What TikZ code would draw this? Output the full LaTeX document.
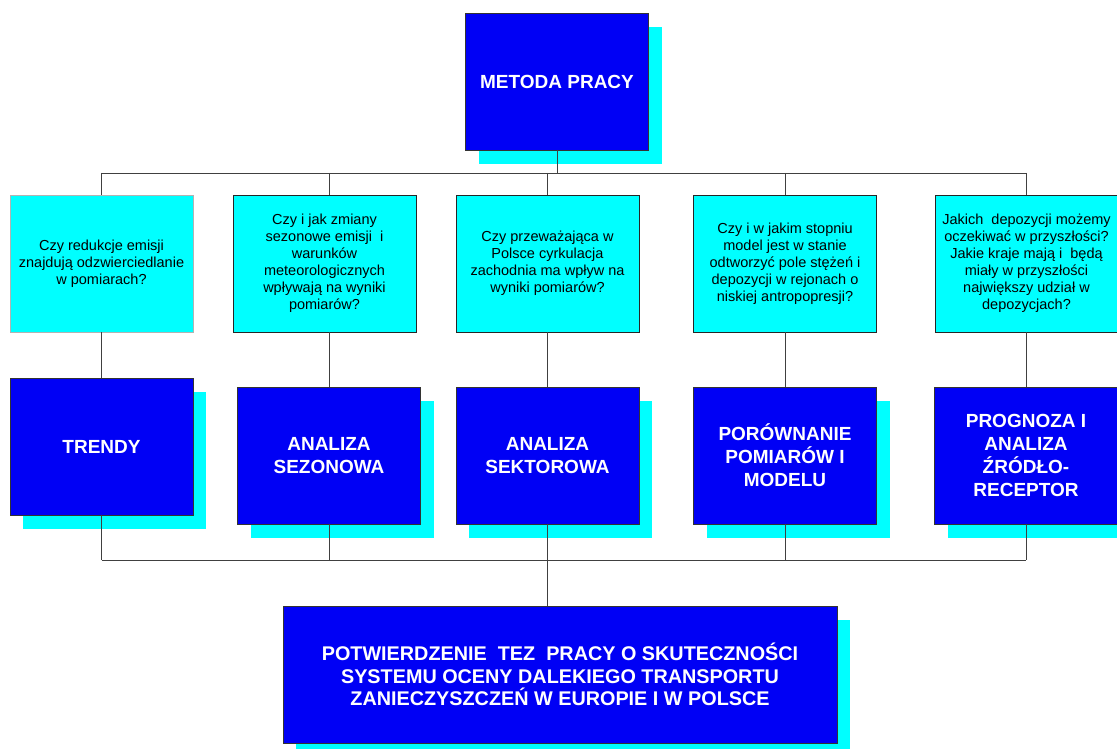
\documentclass[tikz,border=0pt]{standalone}
\usepackage{fontspec}
\setmainfont{Liberation Sans}
\usetikzlibrary{shadows}
\definecolor{boxblue}{RGB}{0,0,245}
\definecolor{shcyan}{RGB}{0,255,255}
\begin{document}
\begin{tikzpicture}[x=1pt,y=-1pt,
  qbox/.style={draw=black!85, fill=shcyan, minimum width=183pt, minimum height=137pt,
    inner sep=0pt, align=center, font=\fontsize{14.5}{17}\selectfont, line width=0.6pt},
  bbox/.style={draw=black!80, fill=boxblue, text=white, minimum width=183pt, minimum height=137pt,
    inner sep=0pt, align=center, font=\fontsize{19}{23}\selectfont\bfseries, line width=0.6pt,
    drop shadow={shadow xshift=13pt, shadow yshift=-14pt, fill=shcyan, opacity=1}},
  conn/.style={draw=black!75, line width=0.8pt}]
\useasboundingbox (0,0) rectangle (1117,749);
\clip (0,0) rectangle (1117,749);

\node[bbox] (top) at (557,81.5) {METODA PRACY};

\node[qbox, draw=gray!60] (q1) at (101.5,263.5) {Czy redukcje emisji\\znajdują odzwierciedlanie\\w pomiarach?};
\node[qbox] (q2) at (324.5,263.5) {Czy i jak zmiany\\sezonowe emisji\ \ i\\warunków\\meteorologicznych\\wpływają na wyniki\\pomiarów?};
\node[qbox] (q3) at (547.5,263.5) {Czy przeważająca w\\Polsce cyrkulacja\\zachodnia ma wpływ na\\wyniki pomiarów?};
\node[qbox] (q4) at (785,263.5) {Czy i w jakim stopniu\\model jest w stanie\\odtworzyć pole stężeń i\\depozycji w rejonach o\\niskiej antropopresji?};
\node[qbox] (q5) at (1026.5,263.5) {Jakich\ \ depozycji możemy\\oczekiwać w przyszłości?\\Jakie kraje mają i\ \ będą\\miały w przyszłości\\największy udział w\\depozycjach?};

\node[bbox] (b1) at (101.5,446.5) {TRENDY};
\node[bbox] (b2) at (329,455.5) {ANALIZA\\SEZONOWA};
\node[bbox] (b3) at (547.5,455.5) {ANALIZA\\SEKTOROWA};
\node[bbox] (b4) at (785,455.5) {PORÓWNANIE\\POMIARÓW I\\MODELU};
\node[bbox] (b5) at (1026,455.5) {PROGNOZA I\\ANALIZA\\ŹRÓDŁO-\\RECEPTOR};

\node[bbox, minimum width=554pt, font=\fontsize{19.8}{22.5}\selectfont\bfseries] (bot) at (560,674.5)
  {POTWIERDZENIE\ \ TEZ\ \ PRACY O SKUTECZNOŚCI\\SYSTEMU OCENY DALEKIEGO TRANSPORTU\\ZANIECZYSZCZEŃ W EUROPIE I W POLSCE};

\coordinate (hbar) at (0,173);
\coordinate (lbar) at (0,560);

\draw[conn] (top.south) -- (top.south |- hbar);
\draw[conn] (b1.north |- hbar) -- (b5.north |- hbar);
\foreach \i in {1,...,5}{
  \draw[conn] (b\i.north |- hbar) -- (b\i.north |- q\i.north);
  \draw[conn] (b\i.north |- q\i.south) -- (b\i.north);
  \draw[conn] (b\i.south) -- (b\i.south |- lbar);
}
\draw[conn] (b1.south |- lbar) -- (b5.south |- lbar);
\draw[conn] (b3.south |- lbar) -- (b3.south |- bot.north);
\end{tikzpicture}
\end{document}
